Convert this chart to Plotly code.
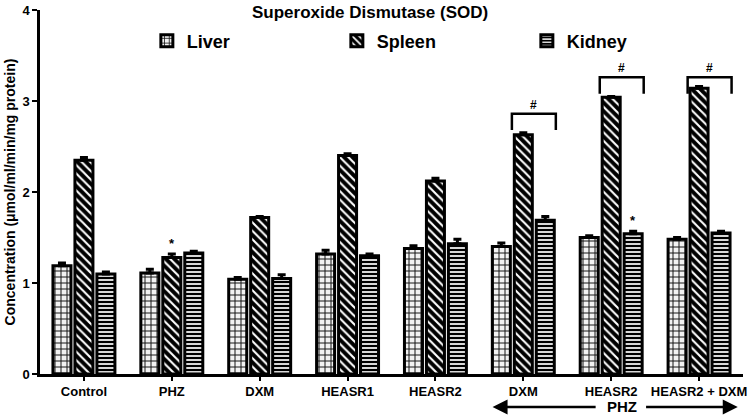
import plotly.graph_objects as go

categories = ["Control", "PHZ", "DXM", "HEASR1", "HEASR2", "DXM", "HEASR2", "HEASR2 + DXM"]
liver = [1.19, 1.11, 1.04, 1.32, 1.38, 1.40, 1.50, 1.48]
spleen = [2.35, 1.28, 1.72, 2.40, 2.12, 2.63, 3.04, 3.14]
kidney = [1.10, 1.33, 1.05, 1.30, 1.43, 1.69, 1.54, 1.55]
liver_err = [0.03, 0.04, 0.02, 0.04, 0.03, 0.04, 0.02, 0.02]
spleen_err = [0.03, 0.04, 0.01, 0.02, 0.03, 0.02, 0.01, 0.02]
kidney_err = [0.02, 0.02, 0.04, 0.02, 0.05, 0.04, 0.03, 0.02]
y_ticks = [0, 1, 2, 3, 4]
bracket_groups = [5, 6, 7]
bracket_tops = [2.86, 3.26, 3.26]
star_marks = [("spleen", 1), ("kidney", 6)]

FONT = "Arial, Liberation Sans, sans-serif"
x = list(range(len(categories)))

fig = go.Figure()
series = [
    ("Liver", liver, liver_err, dict(shape="+", bgcolor="#f2f2f2", fgcolor="#111111", size=6, solidity=0.3, fillmode="replace")),
    ("Spleen", spleen, spleen_err, dict(shape="\\", bgcolor="#000000", fgcolor="#ffffff", size=6, solidity=0.35, fillmode="replace")),
    ("Kidney", kidney, kidney_err, dict(shape="-", bgcolor="#000000", fgcolor="#d8d8d8", size=4, solidity=0.5, fillmode="replace")),
]
for name, vals, errs, pat in series:
    fig.add_trace(go.Bar(
        name=f"<b>{name}</b>", x=x, y=vals,
        marker=dict(color="#000000", line=dict(color="#000000", width=3), pattern=pat),
        error_y=dict(type="data", array=errs, arrayminus=[0] * len(errs), symmetric=False,
                     color="#000000", thickness=3, width=4),
    ))

# significance brackets
offs = {"liver": -0.25, "spleen": 0.0, "kidney": 0.25}
vals_map = {"liver": (liver, liver_err), "spleen": (spleen, spleen_err), "kidney": (kidney, kidney_err)}
for g, top in zip(bracket_groups, bracket_tops):
    x0, x1 = g - 0.13, g + 0.37
    leg = top - 0.18
    fig.add_shape(type="path", xref="x", yref="y",
                  path=f"M {x0},{leg} L {x0},{top} L {x1},{top} L {x1},{leg}",
                  line=dict(color="#000000", width=2.5))
    fig.add_annotation(x=(x0 + x1) / 2, y=top, text="<b>#</b>", showarrow=False,
                       yanchor="bottom", yshift=0, font=dict(family=FONT, size=12, color="#000"))

for s, g in star_marks:
    v, e = vals_map[s]
    fig.add_annotation(x=g + offs[s], y=v[g] + e[g], text="<b>*</b>", showarrow=False,
                       yanchor="bottom", yshift=1, font=dict(family=FONT, size=13, color="#000"))

# title
fig.add_annotation(x=(370 - 40) / 703, xref="paper", y=(374 - 13) / 364, yref="paper",
                   yanchor="middle", xanchor="center",
                   text="<b>Superoxide Dismutase (SOD)</b>", showarrow=False,
                   font=dict(family=FONT, size=17, color="#000"))

# PHZ arrows
arr_y = (374 - 407) / 364
fig.add_annotation(x=6.12, xref="x", y=arr_y, yref="paper", yanchor="middle", text="<b>PHZ</b>",
                   showarrow=False, font=dict(family=FONT, size=15, color="#000"))
fig.add_annotation(x=4.65, xref="x", y=arr_y, yref="paper", ax=5.84, axref="x", ay=0, ayref="pixel",
                   text="", showarrow=True, arrowhead=2, arrowsize=1.2, arrowwidth=2.5, arrowcolor="#000")
fig.add_annotation(x=7.44, xref="x", y=arr_y, yref="paper", ax=6.38, axref="x", ay=0, ayref="pixel",
                   text="", showarrow=True, arrowhead=2, arrowsize=1.2, arrowwidth=2.5, arrowcolor="#000")

fig.update_layout(
    width=751, height=415,
    margin=dict(l=40, r=8, t=10, b=41, autoexpand=False),
    paper_bgcolor="white", plot_bgcolor="white",
    barmode="group", bargap=0.25, bargroupgap=0.18,
    font=dict(family=FONT, color="#000"),
    showlegend=True,
    legend=dict(orientation="h", x=0.152, xanchor="left", y=(374 - 41) / 364, yanchor="middle",
                entrywidth=145, entrywidthmode="pixels", bgcolor="rgba(0,0,0,0)",
                font=dict(family=FONT, size=18, color="#000"), itemclick=False),
    xaxis=dict(range=[-0.5, 7.5], tickmode="array", tickvals=x,
               ticktext=[f"<b>{c}</b>" for c in categories], automargin=False,
               showline=True, linecolor="#000", linewidth=2.5, ticks="outside", ticklen=4,
               tickwidth=2, tickcolor="#000", showgrid=False, zeroline=False,
               tickfont=dict(family=FONT, size=13, color="#000")),
    yaxis=dict(range=[0, 4], tickmode="array", tickvals=y_ticks, automargin=False,
               ticktext=[f"<b>{t}</b>" for t in y_ticks],
               showline=True, linecolor="#000", linewidth=2.5, ticks="outside", ticklen=5,
               tickwidth=2, tickcolor="#000", showgrid=False, zeroline=False,
               tickfont=dict(family=FONT, size=13, color="#000"),
               title=dict(text="<b>Concentration (μmol/ml/min/mg protein)</b>", standoff=4,
                          font=dict(family=FONT, size=14, color="#000"))),
)

fig.write_html("out.html", config={"displayModeBar": False},
               post_script="document.body.style.margin='0';")
